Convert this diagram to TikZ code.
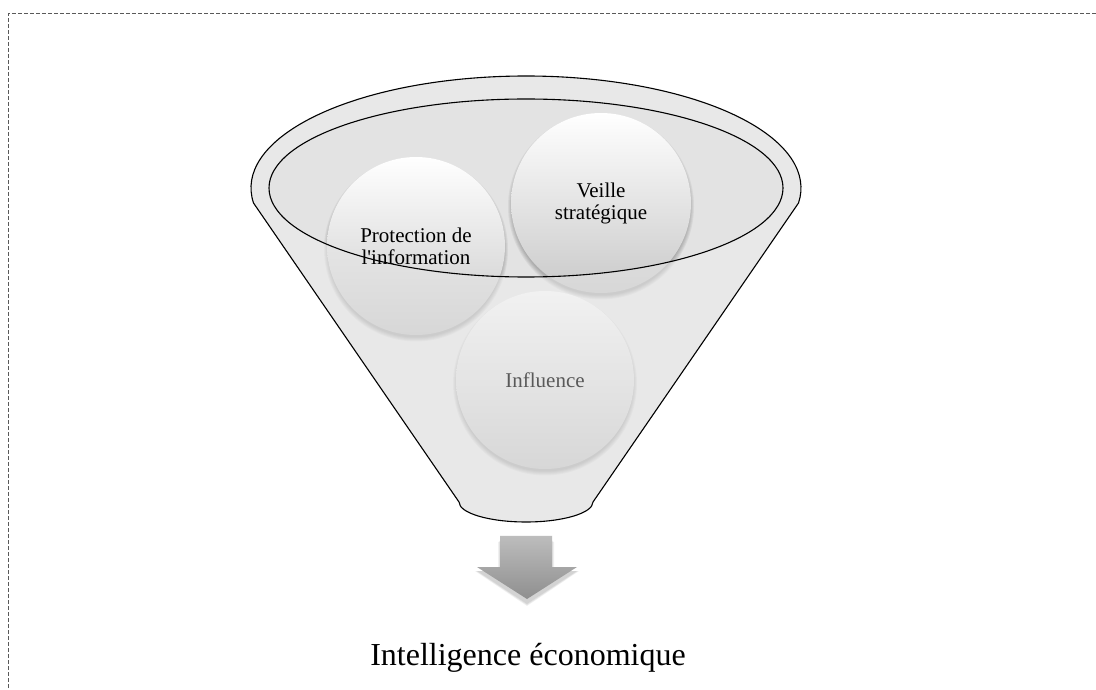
\documentclass[tikz,border=0pt]{standalone}
\usepackage{fontspec}
\setmainfont{Liberation Serif}
\newcommand\ballshadow[3]{%
  \foreach \d in {3,2,1,0,-1}{\fill[black,opacity=0.05] (#1,#2-3.5) circle (#3+\d);}}
\begin{document}
\begin{tikzpicture}[x=1pt,y=1pt,
  lbl/.style={font=\fontsize{21}{22}\selectfont, align=center, text=black, inner sep=0pt},
  ball/.style={circle, inner sep=0pt, top color=white, middle color=white!97!black, bottom color=black!21},
  rim/.style={draw=black, line width=1.1pt}]
\useasboundingbox (0,0) rectangle (1096,689);
\fill[white] (0,0) rectangle (1096,689);
\draw[draw=black!65, line width=0.9pt, dash pattern=on 4pt off 2pt] (8.5,-5) -- (8.5,675.5) -- (1101,675.5);
% funnel base
\fill[black!7] (253.5,486) arc[start angle=187.7,end angle=-7.7,x radius=275,y radius=112] -- (593,187) arc[start angle=0,end angle=-180,x radius=67,y radius=20] -- cycle;
\fill[black!11] (526,501) ellipse[x radius=257,y radius=89];
% balls
\ballshadow{416}{443}{89}
\ballshadow{601}{486}{90}
\ballshadow{545}{309}{89}
\node[ball, minimum size=178pt] (prot) at (416,443) {};
\node[ball, minimum size=180pt] (veil) at (601,486) {};
\node[ball, minimum size=178pt] (infl) at (545,309) {};
% front of funnel, translucent
\fill[black!10, opacity=0.5, even odd rule] (253.5,486) arc[start angle=187.7,end angle=-7.7,x radius=275,y radius=112] -- (593,187) arc[start angle=0,end angle=-180,x radius=67,y radius=20] -- cycle (526,501) ellipse[x radius=257,y radius=89];
% labels
\node[lbl] (tprot) at (prot.center) {Protection de\\l\textquotesingle information};
\node[lbl] (tveil) at (veil.center) {Veille\\stratégique};
\node[lbl, text=black!65] (tinfl) at (infl.center) {Influence};
% outlines
\draw[rim] (253.5,486) arc[start angle=187.7,end angle=-7.7,x radius=275,y radius=112] -- (593,187) arc[start angle=0,end angle=-180,x radius=67,y radius=20] -- cycle;
\draw[rim] (526,501) ellipse[x radius=257,y radius=89];
% arrow
\foreach \d in {0,1,2}{\fill[black,opacity=0.06] (500-\d,149-\d) -- (552+\d,149-\d) -- (552+\d,118) -- (577+\d,118) -- (527,85-\d) -- (477-\d,118) -- (500-\d,118) -- cycle;}
\shade[top color=black!26, bottom color=black!44] (500,153) -- (552,153) -- (552,122) -- (577,122) -- (527,90) -- (477,122) -- (500,122) -- cycle;
\node[font=\fontsize{32}{36}\selectfont, anchor=base, inner sep=0pt] (title) at (528,24) {Intelligence économique};
\end{tikzpicture}
\end{document}
